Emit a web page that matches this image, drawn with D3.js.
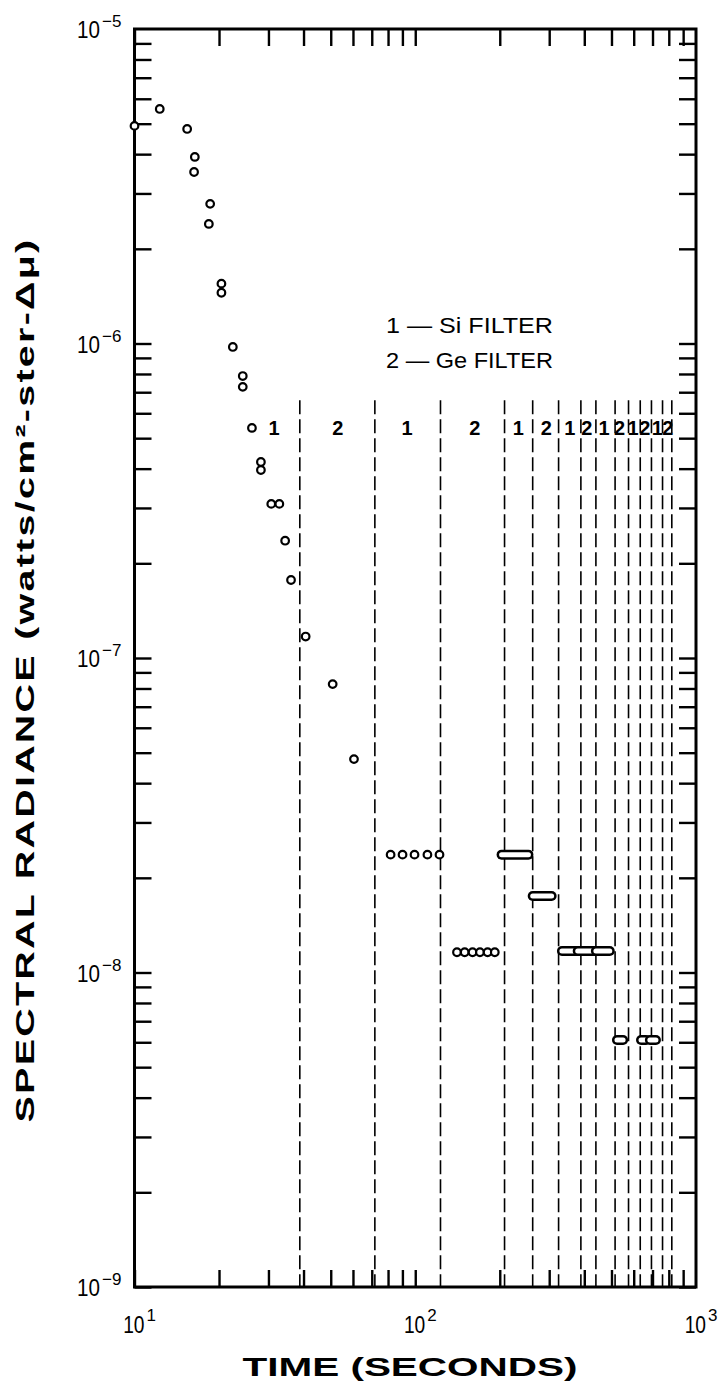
<!DOCTYPE html>
<html>
<head>
<meta charset="utf-8">
<script src="https://cdn.jsdelivr.net/npm/d3@7"></script>
<style>
  html, body { margin: 0; padding: 0; background: #fff; }
  svg { display: block; }
  text { font-family: "Liberation Sans", Arial, sans-serif; fill: #000; }
</style>
</head>
<body>
<svg id="chart" width="718" height="1388"></svg>
<script>
// ---- data ----
// individual observations (time in s, spectral radiance in W/cm^2-ster-Δμ)
const obsTime = [10, 12.3, 15.4, 16.4, 16.3, 18.6, 18.4, 20.4, 20.4, 22.4, 24.3, 24.3,
  26.2, 28.2, 28.2, 30.7, 32.8, 34.4, 36.1, 40.7, 50.8, 60.5,
  81.7, 90.1, 99.4, 110.5, 122,
  140.8, 150, 160, 170, 181, 192];
const obsRadiance = [4.92e-6, 5.57e-6, 4.81e-6, 3.92e-6, 3.51e-6, 2.78e-6, 2.40e-6, 1.55e-6, 1.45e-6, 9.75e-7, 7.88e-7, 7.28e-7,
  5.39e-7, 4.20e-7, 3.96e-7, 3.09e-7, 3.09e-7, 2.36e-7, 1.77e-7, 1.17e-7, 8.26e-8, 4.77e-8,
  2.37e-8, 2.37e-8, 2.37e-8, 2.37e-8, 2.37e-8,
  1.16e-8, 1.16e-8, 1.16e-8, 1.16e-8, 1.16e-8, 1.16e-8];
// densely overlapping observations drawn as elongated runs
const runStart = [203, 262, 333, 379, 440, 523, 637, 685];
const runEnd   = [253, 306, 379, 440, 493, 550, 664, 720];
const runValue = [2.37e-8, 1.75e-8, 1.17e-8, 1.17e-8, 1.17e-8, 6.1e-9, 6.1e-9, 6.1e-9];
// filter change times (dashed lines) and filter labels
const filterChangeTime = [38.8, 71.8, 123, 208, 262, 324, 389, 440, 515, 575, 633, 694, 760, 820];
const filterLabelTime = [31.4, 53, 93.5, 163, 233, 293, 355, 408, 470, 534, 597, 657, 728, 794];
const filterLabel = ["1","2","1","2","1","2","1","2","1","2","1","2","1","2"];
const filterLineTop = 6.6e-7;
const legendLines = ["1 \u2014 Si  FILTER", "2 \u2014 Ge FILTER"];
// axes
const xDomain = [10, 1000];
const yDomain = [1e-9, 1e-5];
const xMajor = [10, 100, 1000];
const xMajorExp = ["1", "2", "3"];
const yMajor = [1e-9, 1e-8, 1e-7, 1e-6, 1e-5];
const yMajorExp = ["\u22129", "\u22128", "\u22127", "\u22126", "\u22125"];
const xTitle = "TIME (SECONDS)";
const yTitle = "SPECTRAL RADIANCE (watts/cm\u00B2-ster-\u0394\u03BC)";

// ---- layout ----
const L = 134.5, R = 696, T = 29, B = 1287;
const svg = d3.select("#chart");
const x = d3.scaleLog().domain(xDomain).range([L, R]);
const y = d3.scaleLog().domain(yDomain).range([B, T]);
const TL = 17;

// minor ticks
const xTicks = [];
for (let d = 10; d < 1000; d *= 10) for (let k = 1; k <= 9; k++) xTicks.push(d * k);
const yTicks = [];
for (let d = 1e-9; d < 0.99e-5; d *= 10) for (let k = 1; k <= 9; k++) yTicks.push(d * k);

const g = svg.append("g");

// axes via d3 axis generators (ticks inside)
const axisB = d3.axisTop(x).tickValues(xTicks).tickSize(TL).tickFormat("");
const axisT = d3.axisBottom(x).tickValues(xTicks).tickSize(TL).tickFormat("");
const axisLft = d3.axisRight(y).tickValues(yTicks).tickSize(TL).tickFormat("");
const axisRgt = d3.axisLeft(y).tickValues(yTicks).tickSize(TL).tickFormat("");
g.append("g").attr("transform", `translate(0,${B})`).call(axisB);
g.append("g").attr("transform", `translate(0,${T})`).call(axisT);
g.append("g").attr("transform", `translate(${L},0)`).call(axisLft);
g.append("g").attr("transform", `translate(${R},0)`).call(axisRgt);
g.selectAll(".tick line").attr("stroke", "#000").attr("stroke-width", 2.4);
g.selectAll(".domain").remove();

// frame
svg.append("rect").attr("x", L).attr("y", T).attr("width", R - L).attr("height", B - T)
  .attr("fill", "none").attr("stroke", "#000").attr("stroke-width", 3);

// dashed filter-change lines
svg.append("g").selectAll("line").data(filterChangeTime).join("line")
  .attr("x1", d => x(d)).attr("x2", d => x(d))
  .attr("y1", y(filterLineTop)).attr("y2", B)
  .attr("stroke", "#000").attr("stroke-width", 1.6).attr("stroke-dasharray", "14,5");

// filter labels
svg.append("g").selectAll("text").data(filterLabel).join("text")
  .attr("x", (d, i) => x(filterLabelTime[i])).attr("y", 435)
  .attr("text-anchor", "middle").attr("font-size", 20).attr("font-weight", "bold")
  .text(d => d);

// legend
svg.append("g").selectAll("text").data(legendLines).join("text")
  .attr("x", 386).attr("y", (d, i) => 333 + i * 35)
  .attr("font-size", 22).attr("textLength", 167).attr("lengthAdjust", "spacingAndGlyphs")
  .text(d => d);

// runs (stadium shapes), each drawn outline-then-interior so junctions stay visible
const runs = runStart.map((s, i) => ({ s, e: runEnd[i], v: runValue[i] }));
const rg = svg.append("g");
runs.forEach(d => {
  rg.append("line").datum(d)
    .attr("x1", x(d.s)).attr("x2", x(d.e)).attr("y1", y(d.v)).attr("y2", y(d.v))
    .attr("stroke", "#000").attr("stroke-width", 10).attr("stroke-linecap", "round");
  rg.append("line").datum(d)
    .attr("x1", x(d.s)).attr("x2", x(d.e)).attr("y1", y(d.v)).attr("y2", y(d.v))
    .attr("stroke", "#fff").attr("stroke-width", 5).attr("stroke-linecap", "round");
});

// observation circles
svg.append("g").selectAll("circle").data(obsTime).join("circle")
  .attr("cx", d => x(d)).attr("cy", (d, i) => y(obsRadiance[i])).attr("r", 3.8)
  .attr("fill", "#fff").attr("stroke", "#000").attr("stroke-width", 2.2);

// y tick labels
const yl = svg.append("g");
yl.selectAll("text.b").data(yMajor).join("text").attr("class", "b")
  .attr("transform", d => `translate(100,${y(d) + 9}) scale(0.86,1)`).attr("text-anchor", "end")
  .attr("font-size", 24).text("10");
yl.selectAll("text.e").data(yMajor).join("text").attr("class", "e")
  .attr("x", 102).attr("y", d => y(d) - 2)
  .attr("font-size", 17).text((d, i) => yMajorExp[i]);

// x tick labels
const xl = svg.append("g");
xl.selectAll("text.b").data(xMajor).join("text").attr("class", "b")
  .attr("transform", d => `translate(${x(d) + 10},1333) scale(0.8,1)`).attr("text-anchor", "end")
  .attr("font-size", 24).text("10");
xl.selectAll("text.e").data(xMajor).join("text").attr("class", "e")
  .attr("x", d => x(d) + 12).attr("y", 1321)
  .attr("font-size", 17).text((d, i) => xMajorExp[i]);

// axis titles
svg.append("text").attr("x", 410).attr("y", 1376).attr("text-anchor", "middle")
  .attr("font-size", 26).attr("font-weight", "bold")
  .attr("textLength", 335).attr("lengthAdjust", "spacingAndGlyphs").text(xTitle);
svg.append("text").attr("transform", "translate(34,680) rotate(-90)").attr("text-anchor", "middle")
  .attr("font-size", 26).attr("font-weight", "bold").attr("letter-spacing", 1.5)
  .attr("textLength", 885).attr("lengthAdjust", "spacingAndGlyphs").text(yTitle);
</script>
</body>
</html>
